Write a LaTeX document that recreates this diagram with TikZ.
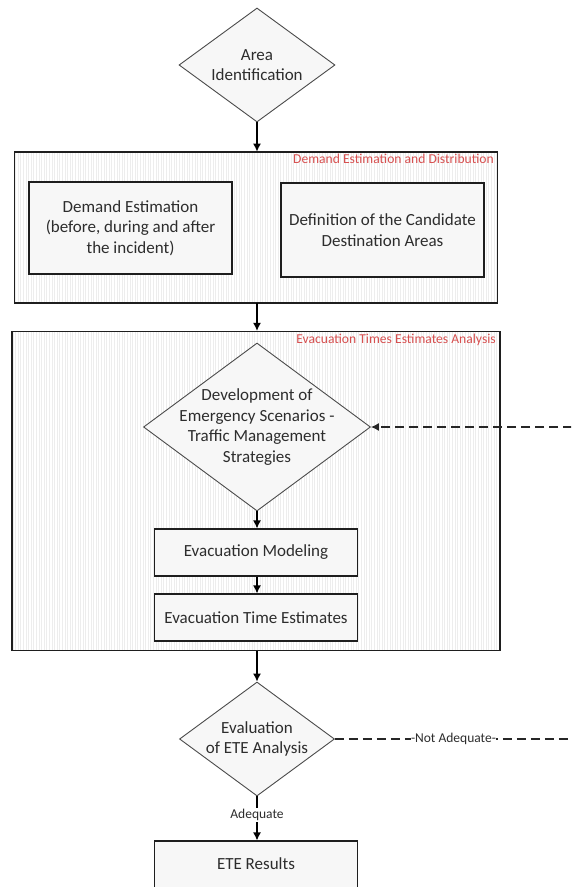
\documentclass[tikz,border=0pt]{standalone}
\usepackage{fontspec}
\setmainfont{Carlito}
\usetikzlibrary{shapes.geometric,arrows.meta,patterns.meta}
\definecolor{txt}{RGB}{45,45,45}
\definecolor{lblred}{RGB}{215,80,80}
\definecolor{edge}{RGB}{30,30,30}
\tikzset{
  container/.style={draw=edge, line width=1.3pt, preaction={fill=white},
    pattern={Lines[angle=90,distance=2.6pt,line width=0.8pt]}, pattern color=black!7},
  procbox/.style={draw=edge, line width=1.2pt, fill=black!3, text=txt, align=center,
    font=\fontsize{17}{20.5}\selectfont, inner sep=0pt},
  decision/.style={diamond, draw=edge!80, line width=0.9pt, fill=black!3, inner sep=0pt},
  dtext/.style={text=txt, align=center, font=\fontsize{17}{20.5}\selectfont, inner sep=0pt},
  grouplabel/.style={text=lblred, font=\fontsize{13.6}{15}\selectfont, anchor=north east, inner sep=0pt},
  edgelabel/.style={text=txt, font=\fontsize{13.5}{15}\selectfont, fill=white, inner sep=1.5pt},
  arr/.style={line width=1.2pt, draw=black, -{Latex[length=8pt,width=8pt]}},
  plain/.style={line width=1.2pt, draw=black},
  dashline/.style={line width=1.2pt, draw=black!85, dash pattern=on 9pt off 5pt}
}
\begin{document}
\begin{tikzpicture}[x=1pt,y=-1pt]
\clip (0,0) rectangle (571,887);
\fill[white] (0,0) rectangle (571,887);

% Area identification
\node[decision, minimum width=156pt, minimum height=114pt] (ai) at (257,65) {};
\node[dtext] (ait) at (ai) {Area\\Identification};

% Container 1
\node[container, minimum width=483pt, minimum height=151pt, inner sep=0pt] (c1) at (256,227.5) {};
\node[grouplabel] (c1l) at (494,154) {Demand Estimation and Distribution};
\node[procbox, minimum width=203pt, minimum height=92pt] (de) at (130.5,228) {Demand Estimation\\(before, during and after\\the incident)};
\node[procbox, minimum width=203pt, minimum height=94pt] (dc) at (382.5,230) {Definition of the Candidate\\Destination Areas};

% Container 2
\node[container, minimum width=488pt, minimum height=319pt, inner sep=0pt] (c2) at (256,491) {};
\node[grouplabel] (c2l) at (496,334) {Evacuation Times Estimates Analysis};
\node[decision, minimum width=227pt, minimum height=168pt] (d2) at (257,427) {};
\node[dtext] (d2t) at (d2) {Development of\\Emergency Scenarios -\\Traffic Management\\Strategies};
\node[procbox, minimum width=203pt, minimum height=47pt] (em) at (256,552.5) {Evacuation Modeling};
\node[procbox, minimum width=203pt, minimum height=47pt] (ete) at (256,617.5) {Evacuation Time Estimates};

% Evaluation
\node[decision, minimum width=155pt, minimum height=114pt] (d3) at (257,739) {};
\node[dtext] (d3t) at (d3) {Evaluation\\of ETE Analysis};
\node[procbox, minimum width=203pt, minimum height=80pt] (res) at (256,881) {};
\node[dtext] (rest) at (256,864) {ETE Results};

% connectors
\draw[arr] (ai.south) -- (ai.south |- c1.north);
\draw[arr] (ai.south |- c1.south) -- (ai.south |- c2.north);
\draw[arr] (d2.south) -- (d2.south |- em.north);
\draw[arr] (d2.south |- em.south) -- (d2.south |- ete.north);
\draw[arr] (d2.south |- c2.south) -- (d3.north);
\draw[arr] (d3.south) -- node[edgelabel, pos=0.42] (adq) {Adequate} (d3.south |- res.north);

\coordinate (r2) at (572,739);
\coordinate (r1) at (572,427);
\draw[dashline] (d3.east) -- node[edgelabel, pos=0.5, inner sep=0.5pt] (nadq) {-Not Adequate-} (r2);
\draw[dashline, -{Latex[length=8pt,width=8pt]}] (r1) -- (d2.east);
\end{tikzpicture}
\end{document}
